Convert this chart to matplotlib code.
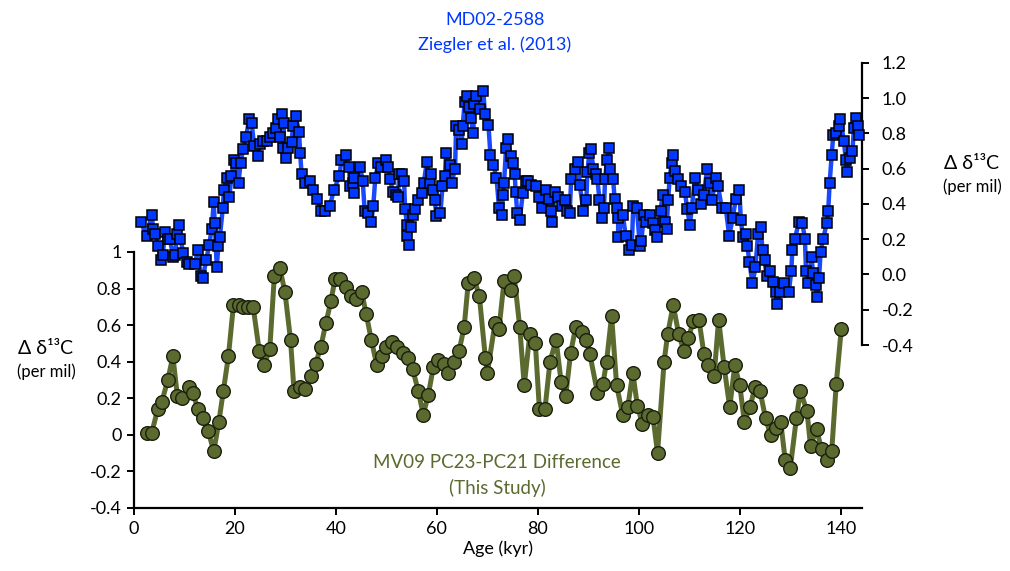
import matplotlib
matplotlib.use("Agg")
import matplotlib.pyplot as plt
from matplotlib.ticker import FuncFormatter

plt.rcParams["font.family"] = ["Lato", "DejaVu Sans"]
plt.rcParams["axes.unicode_minus"] = False

# MD02-2588 (Ziegler et al. 2013), right axis
blue_age = [
    1.3, 2.5, 3.5, 3.8, 4.2, 4.8, 5.3, 5.7, 6.1, 6.8, 7.1, 7.8, 8.1, 8.6, 9.0, 9.2,
    9.8, 10.4, 10.9, 12.1, 12.6, 13.2, 13.6, 14.3, 14.9, 15.4, 15.8, 16.0, 16.4, 16.7,
    17.0, 17.6, 17.8, 18.4, 18.9, 19.3, 19.8, 20.2, 20.7, 21.1, 21.6, 22.2, 22.8, 23.3,
    23.8, 24.6, 24.9, 25.6, 26.3, 26.9, 27.6, 28.1, 28.6, 29.0, 29.4, 29.7, 29.6, 30.1,
    30.6, 31.2, 31.5, 32.0, 32.7, 32.9, 33.2, 33.9, 34.9, 35.4, 36.3, 37.0, 37.8, 38.8,
    39.6, 40.7, 41.1, 42.0, 42.6, 42.8, 43.3, 43.6, 43.6, 44.8, 45.3, 45.7, 46.4, 47.0,
    47.4, 47.8, 48.4, 49.0, 49.9, 50.4, 50.7, 51.3, 51.9, 52.3, 52.5, 53.0, 53.5, 53.7,
    54.1, 54.1, 54.5, 54.8, 55.3, 55.6, 56.3, 57.0, 57.4, 58.0, 58.6, 58.9, 59.3, 59.6,
    59.9, 60.7, 61.1, 61.6, 61.8, 62.6, 62.9, 63.6, 63.8, 64.4, 64.9, 65.1, 65.5, 65.9,
    66.4, 66.7, 67.2, 67.4, 67.8, 68.5, 69.2, 69.5, 70.2, 70.6, 71.2, 71.8, 72.3, 72.8,
    73.1, 73.3, 73.7, 74.0, 74.6, 75.0, 75.4, 75.6, 75.9, 76.4, 77.0, 77.6, 78.1, 78.7,
    79.7, 80.2, 80.9, 81.7, 82.2, 82.5, 82.7, 83.4, 84.0, 84.7, 85.3, 85.8, 86.3, 86.6,
    87.3, 87.9, 88.3, 89.0, 89.6, 89.8, 90.2, 90.5, 91.0, 91.5, 91.8, 92.2, 92.7, 93.1,
    93.3, 93.7, 94.1, 94.3, 94.9, 95.2, 95.6, 95.9, 95.9, 96.8, 97.4, 98.1, 98.6, 98.9,
    99.6, 100.2, 100.5, 101.0, 101.5, 102.3, 102.8, 103.2, 103.6, 104.3, 104.7, 105.1,
    105.5, 105.8, 106.1, 106.5, 106.8, 107.1, 107.8, 108.4, 109.1, 109.6, 110.1, 110.5,
    111.1, 111.8, 112.4, 112.9, 113.5, 114.1, 114.5, 115.2, 115.7, 116.4, 117.2, 117.9,
    118.6, 119.2, 119.9, 120.2, 120.6, 121.2, 121.5, 121.9, 122.5, 123.1, 123.6, 124.1,
    124.5, 124.9, 125.3, 125.9, 126.6, 127.1, 127.4, 128.0, 128.7, 129.7, 130.2, 130.4,
    130.9, 131.7, 132.4, 132.9, 133.1, 133.5, 134.2, 134.5, 135.0, 135.3, 135.7, 136.0,
    136.5, 137.2, 137.5, 137.8, 138.2, 138.5, 139.1, 139.6, 139.9, 140.6, 141.0, 141.2,
    141.8, 142.3, 142.6, 143.0, 143.4, 143.6,
]
blue_d13c = [
    0.30, 0.22, 0.34, 0.26, 0.23, 0.16, 0.08, 0.11, 0.24, 0.20, 0.20, 0.10, 0.11, 0.23, 0.28, 0.20,
    0.12, 0.07, 0.06, 0.06, 0.14, -0.01, -0.02, 0.08, 0.17, 0.26, 0.41, 0.29, 0.04, 0.16,
    0.21, 0.38, 0.48, 0.55, 0.44, 0.56, 0.65, 0.63, 0.52, 0.63, 0.71, 0.78, 0.88, 0.86,
    0.73, 0.67, 0.74, 0.76, 0.76, 0.78, 0.80, 0.83, 0.88, 0.78, 0.91, 0.86, 0.72, 0.66,
    0.72, 0.75, 0.84, 0.90, 0.81, 0.69, 0.57, 0.52, 0.53, 0.48, 0.43, 0.36, 0.36, 0.39,
    0.48, 0.56, 0.65, 0.68, 0.61, 0.50, 0.52, 0.55, 0.46, 0.61, 0.53, 0.36, 0.35, 0.30,
    0.39, 0.55, 0.63, 0.61, 0.65, 0.61, 0.54, 0.47, 0.45, 0.44, 0.57, 0.57, 0.53, 0.37,
    0.28, 0.22, 0.17, 0.27, 0.34, 0.37, 0.42, 0.46, 0.52, 0.64, 0.52, 0.57, 0.48, 0.42,
    0.33, 0.35, 0.50, 0.56, 0.69, 0.62, 0.52, 0.60, 0.84, 0.82, 0.74, 0.84, 0.98, 1.01,
    0.95, 0.89, 0.80, 0.97, 1.01, 0.94, 1.04, 0.91, 0.85, 0.68, 0.62, 0.55, 0.38, 0.34,
    0.45, 0.52, 0.72, 0.77, 0.67, 0.63, 0.57, 0.47, 0.35, 0.31, 0.46, 0.53, 0.53, 0.51,
    0.50, 0.44, 0.38, 0.48, 0.43, 0.36, 0.30, 0.47, 0.44, 0.39, 0.42, 0.36, 0.35, 0.54,
    0.60, 0.64, 0.51, 0.36, 0.42, 0.58, 0.69, 0.71, 0.60, 0.57, 0.54, 0.42, 0.32, 0.38,
    0.54, 0.65, 0.72, 0.60, 0.54, 0.43, 0.38, 0.32, 0.21, 0.34, 0.22, 0.14, 0.17, 0.39,
    0.38, 0.16, 0.19, 0.34, 0.30, 0.34, 0.29, 0.25, 0.21, 0.36, 0.45, 0.30,
    0.26, 0.42, 0.55, 0.63, 0.68, 0.59, 0.54, 0.50, 0.47, 0.37, 0.28, 0.38,
    0.55, 0.48, 0.40, 0.45, 0.60, 0.52, 0.42, 0.55, 0.50, 0.38, 0.38, 0.22,
    0.32, 0.43, 0.48, 0.31, 0.21, 0.23, 0.16, 0.07, -0.05, 0.04, 0.23, 0.27,
    0.14, 0.08, -0.01, 0.02, -0.04, -0.10, -0.17, -0.10, -0.05, -0.10, 0.02, 0.14,
    0.20, 0.30, 0.29, 0.20, 0.02, -0.05, 0.10, 0.01, -0.06, -0.13, -0.02, 0.13,
    0.20, 0.29, 0.36, 0.52, 0.68, 0.79, 0.80, 0.84, 0.88, 0.76, 0.65, 0.58,
    0.66, 0.70, 0.83, 0.89, 0.84, 0.79,
]

# MV09 PC23-PC21 difference (this study), left axis
green_age = [
    2.6, 3.5, 4.7, 5.5, 6.7, 7.7, 8.6, 9.6, 10.8, 11.6, 12.7, 13.6, 14.7, 15.8, 16.8,
    17.7, 18.7, 19.7, 20.7, 21.6, 22.6, 23.6, 24.8, 25.8, 26.9, 27.8, 28.9, 29.9, 31.0,
    31.7, 32.9, 33.9, 35.0, 36.0, 37.0, 38.0, 39.0, 39.8, 40.8, 42.0, 42.9, 43.9, 45.1,
    46.0, 47.0, 48.1, 49.2, 50.0, 51.2, 52.1, 53.2, 54.3, 55.2, 56.3, 57.3, 58.3, 59.3,
    60.3, 61.4, 62.2, 63.4, 64.4, 65.4, 66.2, 67.3, 68.4, 69.6, 70.0, 71.5, 72.3, 73.3,
    74.6, 75.3, 76.4, 77.3, 78.4, 79.5, 80.3, 81.4, 82.4, 83.6, 84.6, 85.5, 86.5, 87.5,
    88.7, 89.6, 90.3, 91.8, 92.9, 93.6, 94.6, 95.6, 96.8, 97.8, 98.8, 99.7, 100.7, 101.8,
    102.8, 103.7, 105.0, 105.7, 106.8, 107.9, 108.9, 109.8, 110.8, 111.9, 112.9, 113.7,
    114.9, 115.8, 116.9, 118.0, 119.0, 120.0, 120.9, 122.0, 123.0, 124.0, 125.1, 126.1,
    127.1, 128.1, 129.0, 130.0, 131.2, 132.0, 133.3, 134.0, 135.2, 136.2, 137.2, 138.2,
    139.1, 140.1,
]
green_d13c = [
    0.01, 0.01, 0.14, 0.18, 0.30, 0.43, 0.21, 0.20, 0.26, 0.23, 0.14, 0.09, 0.02, -0.09, 0.07,
    0.24, 0.43, 0.71, 0.71, 0.70, 0.70, 0.70, 0.46, 0.38, 0.47, 0.87, 0.91, 0.78, 0.52,
    0.24, 0.26, 0.25, 0.32, 0.39, 0.48, 0.61, 0.73, 0.85, 0.85, 0.81, 0.76, 0.74, 0.78,
    0.66, 0.52, 0.38, 0.43, 0.48, 0.51, 0.48, 0.45, 0.42, 0.36, 0.24, 0.11, 0.22, 0.37,
    0.41, 0.39, 0.34, 0.40, 0.46, 0.59, 0.83, 0.86, 0.76, 0.42, 0.34, 0.61, 0.58, 0.84,
    0.79, 0.87, 0.59, 0.27, 0.55, 0.50, 0.14, 0.14, 0.40, 0.52, 0.29, 0.21, 0.45, 0.59,
    0.56, 0.52, 0.44, 0.23, 0.28, 0.40, 0.65, 0.27, 0.11, 0.15, 0.34, 0.16, 0.06, 0.11,
    0.10, -0.10, 0.40, 0.55, 0.71, 0.55, 0.46, 0.53, 0.62, 0.63, 0.44, 0.38,
    0.32, 0.63, 0.37, 0.15, 0.38, 0.27, 0.07, 0.15, 0.26, 0.24, 0.09, 0.00,
    0.04, 0.07, -0.14, -0.18, 0.09, 0.24, 0.13, -0.06, 0.03, -0.08, -0.14, -0.09,
    0.28, 0.58,
]

left_ticks = [-0.4, -0.2, 0, 0.2, 0.4, 0.6, 0.8, 1]
right_ticks = [-0.4, -0.2, 0.0, 0.2, 0.4, 0.6, 0.8, 1.0, 1.2]
x_ticks = [0, 20, 40, 60, 80, 100, 120, 140]

BLUE = "#0038ff"
BLUE_LINE = "#1a48ff"
GREEN = "#5b6a2f"

W, H = 1010, 571
fig = plt.figure(figsize=(W / 100, H / 100), dpi=100)

# axes box in pixels: left 134, right 862, bottom 508, top 62
ax = fig.add_axes([134 / W, 1 - 508 / H, (862 - 134) / W, (508 - 62) / H])
ax2 = ax.twinx()

ax.set_xlim(0, 144.2)
ax.set_ylim(-0.4, -0.4 + 446 / 182.9)
ax2.set_ylim(-0.4 - (508 - 345) / 176.25, 1.2 + 1 / 176.25)

ax.plot(green_age, green_d13c, color=GREEN, lw=3.6, marker="o", ms=9.8,
        mfc=GREEN, mec="#1b1f0e", mew=1.0, clip_on=False, zorder=3)
ax2.plot(blue_age, blue_d13c, color=BLUE_LINE, lw=3.2, marker="s", ms=7.8,
         mfc=BLUE, mec="black", mew=1.1, clip_on=False, zorder=3)

for a in (ax, ax2):
    a.spines["top"].set_visible(False)
    a.patch.set_visible(False)
ax.spines["right"].set_visible(False)
ax2.spines["left"].set_visible(False)
ax2.spines["bottom"].set_visible(False)
ax.spines["left"].set_bounds(-0.4, 1)
ax2.spines["right"].set_bounds(-0.4, 1.2)
for s in (ax.spines["left"], ax.spines["bottom"], ax2.spines["right"]):
    s.set_linewidth(1.6)

ax.set_xticks(x_ticks)
ax.set_yticks(left_ticks)
ax.yaxis.set_major_formatter(FuncFormatter(lambda v, p: f"{v:g}"))
ax2.set_yticks(right_ticks)
ax2.yaxis.set_major_formatter(FuncFormatter(lambda v, p: f"{v:.1f}"))
ax.tick_params(axis="both", direction="out", length=5, width=1.4, labelsize=13, pad=4)
ax2.tick_params(axis="y", direction="out", length=5, width=1.4, labelsize=13, pad=9)

ax.set_xlabel("Age (kyr)", fontsize=13, labelpad=3)


def ftext(x, y, s, **kw):
    fig.text(x / W, 1 - y / H, s, ha="center", va="center", **kw)


ftext(495, 20, "MD02-2588", color=BLUE, fontsize=13)
ftext(495, 45, "Ziegler et al. (2013)", color=BLUE, fontsize=13)
ftext(497, 463, "MV09 PC23-PC21 Difference", color=GREEN, fontsize=13.5)
ftext(497, 488, "(This Study)", color=GREEN, fontsize=13.5)
ftext(46, 348, "Δ δ¹³C", fontsize=14)
ftext(46, 372, "(per mil)", fontsize=12)
ftext(972, 163, "Δ δ¹³C", fontsize=14)
ftext(972, 187, "(per mil)", fontsize=12)

fig.savefig("out.png", dpi=100)
